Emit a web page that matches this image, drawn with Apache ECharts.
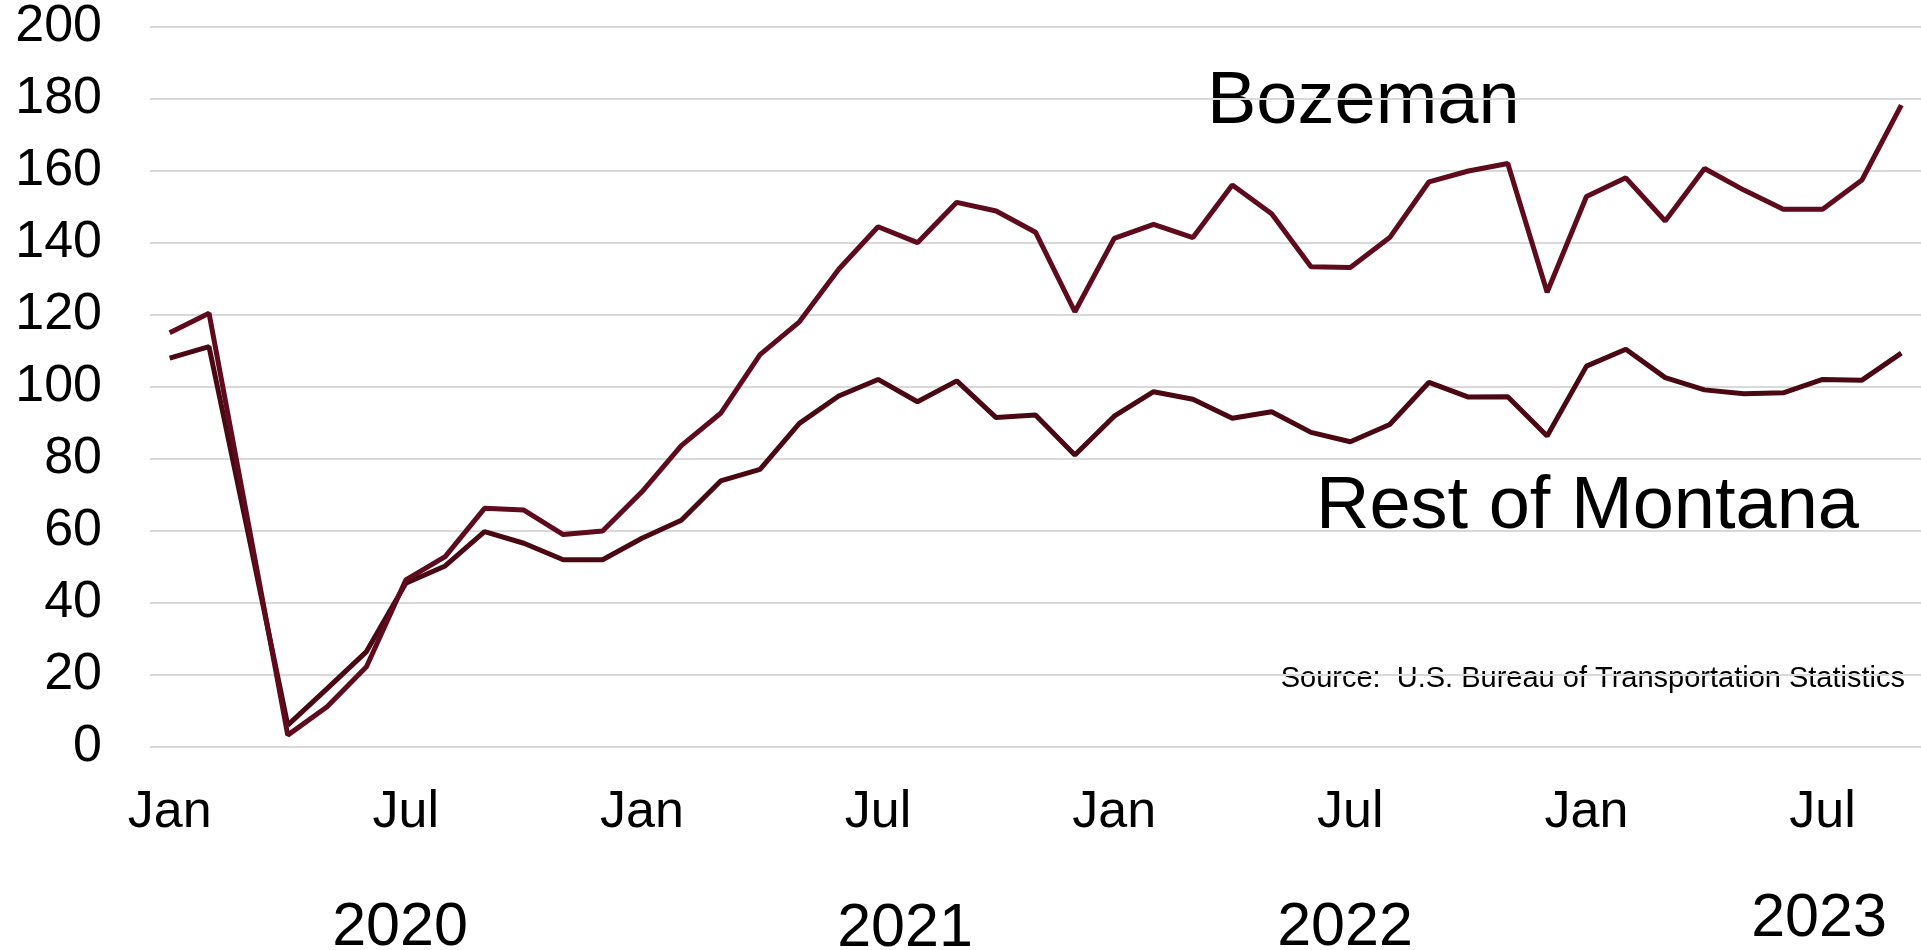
<!DOCTYPE html>
<html>
<head>
<meta charset="utf-8">
<title>Bozeman vs Rest of Montana</title>
<script src="https://cdn.jsdelivr.net/npm/echarts@6/dist/echarts.min.js"></script>
<style>
  html, body { margin: 0; padding: 0; background: #fff; }
  #chart { width: 1921px; height: 950px; }
</style>
</head>
<body>
<div id="chart"></div>
<script>
// 月份名，横轴只显示 Jan / Jul
var monthNames = ['Jan', 'Feb', 'Mar', 'Apr', 'May', 'Jun', 'Jul', 'Aug', 'Sep', 'Oct', 'Nov', 'Dec'];
var years = [2020, 2021, 2022, 2023];
var yearLabels = ['2020', '2021', '2022', '2023'];
var yTicks = [0, 20, 40, 60, 80, 100, 120, 140, 160, 180, 200];

// Jan 2020 - Sep 2023
var categories = [];
years.forEach(function (y) {
    monthNames.forEach(function (m, i) {
        if (y === 2023 && i > 8) return;
        categories.push(m + ' ' + y);
    });
});

// 数据（从图上读出来的）
var bozeman = [115.1, 120.5, 62, 3.3, 11.2, 22.3, 46.4, 52.9, 66.3, 65.8, 59, 60,
    70.9, 83.7, 92.7, 109, 118.1, 132.7, 144.5, 140.1, 151.3, 148.9, 143, 120.9,
    141.3, 145.2, 141.5, 156.1, 148.1, 133.4, 133.2, 141.5, 157, 160, 162.1, 126.3,
    152.9, 158.1, 146.1, 160.7, 154.7, 149.4, 149.4, 157.5, 178.3];
var restOfMontana = [108, 111.2, 59, 6.1, 16.2, 26.5, 45.5, 50.3, 59.8, 56.6, 52, 52,
    58, 63, 73.9, 77.1, 89.9, 97.5, 102.1, 95.9, 101.7, 91.5, 92.2, 81.1,
    91.9, 98.7, 96.6, 91.3, 93.1, 87.4, 84.8, 89.6, 101.3, 97.2, 97.3, 86.4,
    105.8, 110.5, 102.6, 99.2, 98.1, 98.4, 102.1, 101.9, 109.4];

var font = "'Liberation Sans', Arial, sans-serif";
var chart = echarts.init(document.getElementById('chart'));

chart.setOption({
    animation: false,
    grid: { left: 150, right: 0, top: 27, bottom: 203 },
    xAxis: {
        type: 'category',
        data: categories,
        boundaryGap: true,
        axisLine: { show: false },
        axisTick: { show: false },
        axisLabel: {
            interval: 5, // 每 6 个月一个
            margin: 40,
            color: '#000',
            fontSize: 52,
            fontFamily: font,
            formatter: function (v) { return v.split(' ')[0]; }
        }
    },
    yAxis: {
        type: 'value',
        min: yTicks[0],
        max: yTicks[yTicks.length - 1],
        interval: 20,
        axisLine: { show: false },
        axisTick: { show: false },
        axisLabel: { margin: 48, color: '#000', fontSize: 52, fontFamily: font },
        splitLine: { lineStyle: { color: '#d9d9d9', width: 2 } }
    },
    series: [{
        name: 'Bozeman',
        type: 'line',
        data: bozeman,
        symbol: 'none',
        lineStyle: { color: '#5e0b1d', width: 5 },
        z: 3
    }, {
        name: 'Rest of Montana',
        type: 'line',
        data: restOfMontana,
        symbol: 'none',
        lineStyle: { color: '#4a0813', width: 5 },
        z: 2
    }],
    graphic: [
        // 年份
        { type: 'text', x: 400, y: 928, style: { text: yearLabels[0], font: '61px ' + font, fill: '#000', align: 'center', verticalAlign: 'middle' } },
        { type: 'text', x: 905, y: 929, style: { text: yearLabels[1], font: '61px ' + font, fill: '#000', align: 'center', verticalAlign: 'middle' } },
        { type: 'text', x: 1345, y: 928, style: { text: yearLabels[2], font: '61px ' + font, fill: '#000', align: 'center', verticalAlign: 'middle' } },
        { type: 'text', x: 1819, y: 919, style: { text: yearLabels[3], font: '61px ' + font, fill: '#000', align: 'center', verticalAlign: 'middle' } },
        // 系列标注
        { type: 'text', x: 1207, y: 103, style: { text: 'Bozeman', font: '74px ' + font, fill: '#000', align: 'left', verticalAlign: 'middle' } },
        { type: 'text', x: 1316, y: 508, style: { text: 'Rest of Montana', font: '74px ' + font, fill: '#000', align: 'left', verticalAlign: 'middle' } },
        // 来源
        { type: 'text', x: 1905, y: 679, style: { text: 'Source:  U.S. Bureau of Transportation Statistics', font: '29px ' + font, fill: '#000', align: 'right', verticalAlign: 'middle' } }
    ]
});
</script>
</body>
</html>
